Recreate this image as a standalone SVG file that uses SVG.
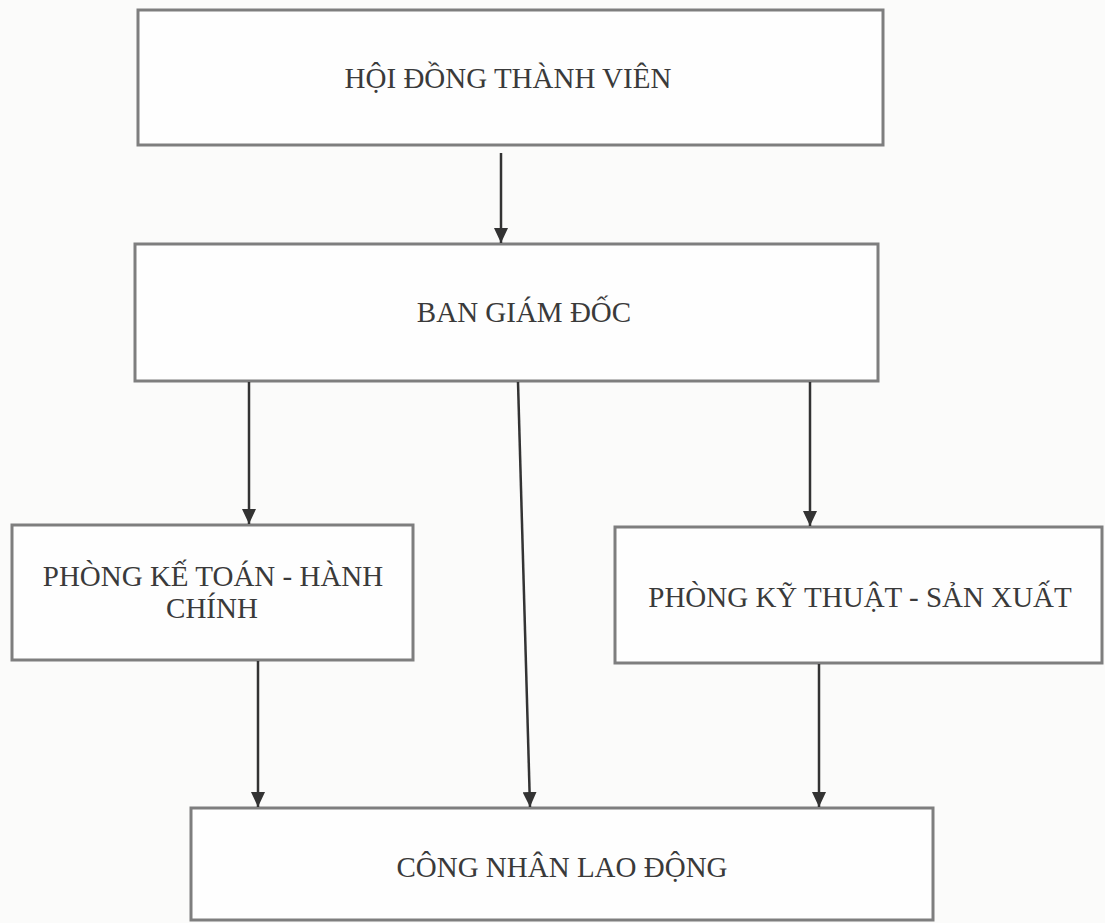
<svg xmlns="http://www.w3.org/2000/svg" width="1105" height="923" viewBox="0 0 1105 923">
<style>
.box{fill:#fefefe;stroke:#7e7e7e;stroke-width:3}
.lbl{font-family:"Liberation Serif","Times New Roman",serif;font-size:29px;fill:#3a3a3a;text-anchor:middle}
.con{stroke:#333;stroke-width:2.5;fill:none;marker-end:url(#ah)}
</style>
<defs>
<marker id="ah" markerUnits="userSpaceOnUse" markerWidth="15" markerHeight="14" refX="15" refY="7" orient="auto">
<path d="M0,0 L15,7 L0,14 z" fill="#333"/>
</marker>
</defs>
<rect width="1105" height="923" fill="#fbfbfa"/>
<g id="n1"><rect class="box" x="138" y="10" width="745" height="135"/><text class="lbl" x="508" y="88">HỘI ĐỒNG THÀNH VIÊN</text></g>
<g id="n2"><rect class="box" x="135" y="244" width="743" height="137"/><text class="lbl" x="524" y="322">BAN GIÁM ĐỐC</text></g>
<g id="n3"><rect class="box" x="12" y="525" width="401" height="135"/><text class="lbl" x="213" y="586">PHÒNG KẾ TOÁN - HÀNH</text><text class="lbl" x="212" y="618">CHÍNH</text></g>
<g id="n4"><rect class="box" x="615" y="527" width="487" height="136"/><text class="lbl" x="860" y="607">PHÒNG KỸ THUẬT - SẢN XUẤT</text></g>
<g id="n5"><rect class="box" x="191" y="808" width="742" height="112"/><text class="lbl" x="562" y="877">CÔNG NHÂN LAO ĐỘNG</text></g>
<g id="connectors">
<line class="con" x1="501" y1="153" x2="501" y2="243"/>
<line class="con" x1="249" y1="382" x2="249" y2="524"/>
<line class="con" x1="518" y1="382" x2="530" y2="807"/>
<line class="con" x1="810" y1="382" x2="810" y2="526"/>
<line class="con" x1="258" y1="661" x2="258" y2="807"/>
<line class="con" x1="819" y1="664" x2="819" y2="807"/>
</g>
</svg>
